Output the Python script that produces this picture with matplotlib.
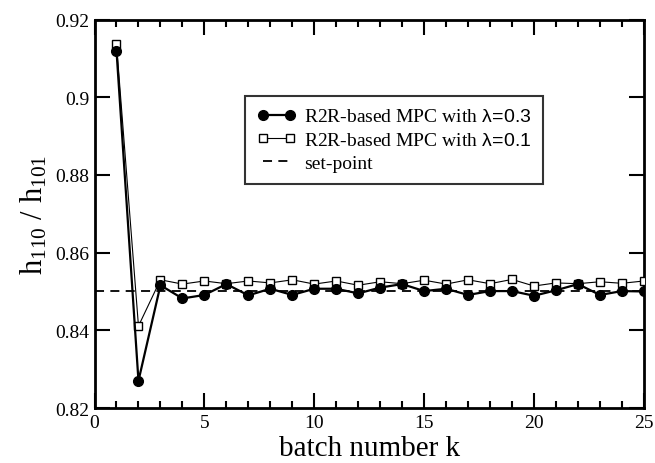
import matplotlib
matplotlib.use('Agg')
import matplotlib.pyplot as plt

plt.rcParams['font.family'] = ['Liberation Serif', 'DejaVu Serif']
plt.rcParams['mathtext.fontset'] = 'custom'
plt.rcParams['mathtext.rm'] = 'Liberation Serif'
plt.rcParams['mathtext.it'] = 'Liberation Serif:italic'
plt.rcParams['mathtext.sf'] = 'Liberation Sans'

# batch numbers
k = list(range(1, 26))

# R2R-based MPC, lambda = 0.3 (filled circles)
h_lam03 = [0.912, 0.827, 0.8516, 0.8482, 0.8491, 0.8519, 0.8490, 0.8507, 0.8491, 0.8507,
           0.8507, 0.8495, 0.8510, 0.8519, 0.8501, 0.8507, 0.8491, 0.8501, 0.8501, 0.8489,
           0.8503, 0.8519, 0.8491, 0.8501, 0.8500]

# R2R-based MPC, lambda = 0.1 (open squares)
h_lam01 = [0.9137, 0.8411, 0.8530, 0.8519, 0.8527, 0.8520, 0.8527, 0.8522, 0.8530, 0.8519,
           0.8527, 0.8516, 0.8525, 0.8520, 0.8529, 0.8519, 0.8530, 0.8520, 0.8531, 0.8514,
           0.8522, 0.8520, 0.8525, 0.8521, 0.8527]

setpoint = 0.85

fig = plt.figure(figsize=(6.55, 4.64), dpi=100)
ax = fig.add_axes([0.1443, 0.1185, 0.8387, 0.8373])

ax.plot(k, h_lam01, '-', color='black', lw=0.8, marker='s', ms=5.5,
        mfc='white', mec='black', mew=1.0, zorder=3,
        label=r'R2R-based MPC with $\mathsf{\lambda}\!\mathsf{=}\!\mathsf{0.1}$')
ax.plot(k, h_lam03, '-', color='black', lw=1.6, marker='o', ms=7,
        mfc='black', mec='black', zorder=4,
        label=r'R2R-based MPC with $\mathsf{\lambda}\!\mathsf{=}\!\mathsf{0.3}$')
ax.axhline(setpoint, color='black', lw=1.3, ls=(0, (5, 3.5)), zorder=2, label='set-point')

ax.set_xlim(0, 25)
ax.set_ylim(0.82, 0.92)
ax.set_xticks([0, 5, 10, 15, 20, 25])
ax.set_xticks(range(0, 26), minor=True)
ax.set_yticks([0.82, 0.84, 0.86, 0.88, 0.9, 0.92])
ax.set_yticklabels(['0.82', '0.84', '0.86', '0.88', '0.9', '0.92'])

ax.tick_params(which='both', direction='in', top=True, right=True, width=1.5,
               labelsize=14)
ax.tick_params(which='major', length=11)
ax.tick_params(which='minor', length=5)
ax.tick_params(axis='x', pad=4)
for s in ax.spines.values():
    s.set_linewidth(2)

ax.set_xlabel('batch number k', fontsize=21, labelpad=3)
ax.set_ylabel(r'h$_{110}$ / h$_{101}$', fontsize=22, labelpad=4)

handles, labels = ax.get_legend_handles_labels()
order = [1, 0, 2]
leg = ax.legend([handles[i] for i in order], [labels[i] for i in order],
                loc='upper left', bbox_to_anchor=(0.274, 0.803), borderaxespad=0,
                fontsize=14, numpoints=2, handlelength=2.0, handletextpad=0.45,
                frameon=True, fancybox=False, edgecolor='black',
                borderpad=0.6, labelspacing=0.3)
leg.get_frame().set_linewidth(1.5)

fig.savefig('out.png', dpi=100)
